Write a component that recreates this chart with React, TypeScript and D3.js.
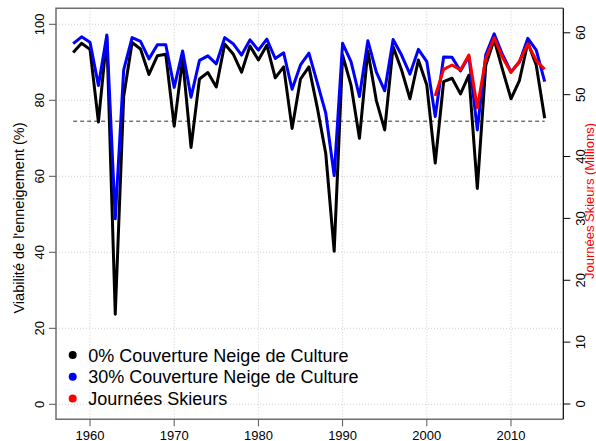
import React from "react";
import * as d3 from "d3";

const years: number[] = d3.range(1958, 2015);

const snow0: number[] = [
  92.6, 95.0, 93.4, 74.3, 96.8, 23.7, 81.0, 95.2, 93.5, 86.8,
  91.7, 92.1, 73.2, 90.9, 67.6, 85.6, 87.3, 83.5, 94.8, 92.2,
  87.4, 94.3, 90.6, 94.5, 85.9, 88.8, 72.6, 85.6, 88.8, 78.0,
  66.0, 40.3, 91.9, 84.0, 70.0, 93.0, 80.0, 72.2, 94.1, 88.0,
  80.4, 90.6, 84.0, 63.5, 84.9, 85.8, 81.7, 86.6, 56.8, 89.2,
  96.0, 88.0, 80.4, 85.2, 95.2, 89.2, 75.3,
];

const snow30: number[] = [
  94.9, 96.7, 95.3, 83.9, 97.2, 48.8, 88.0, 96.5, 95.5, 90.9,
  94.6, 94.6, 83.4, 93.0, 80.8, 90.5, 91.7, 89.6, 96.5, 94.9,
  91.9, 95.9, 93.2, 96.1, 91.0, 92.5, 82.9, 89.3, 92.4, 84.6,
  76.6, 60.2, 95.0, 90.2, 81.0, 95.7, 87.5, 82.5, 96.0, 91.9,
  86.9, 93.4, 90.2, 75.7, 91.4, 91.3, 87.7, 91.6, 72.2, 92.0,
  97.5, 92.0, 87.5, 90.0, 96.3, 93.2, 84.9,
];

const skierYears: number[] = d3.range(2001, 2015);
const skierDays: number[] = [
  49.8, 54.1, 54.8, 54.0, 56.4, 47.9, 55.8, 59.2, 56.0, 53.6, 55.4, 58.2, 55.5, 54.1,
];

const threshold = 74.5;
const xTicks: number[] = [1960, 1970, 1980, 1990, 2000, 2010];
const yLeftTicks: number[] = [0, 20, 40, 60, 80, 100];
const yRightTicks: number[] = [0, 10, 20, 30, 40, 50, 60];
const legendLabels: string[] = [
  "0% Couverture Neige de Culture",
  "30% Couverture Neige de Culture",
  "Journées Skieurs",
];
const legendColors: string[] = ["#000000", "#0000ff", "#ff0000"];
const leftLabel = "Viabilité de l'enneigement (%)";
const rightLabel = "Journées Skieurs (Millions)";

export default function App() {
  const box = { left: 56, right: 563.3, top: 8.3, bottom: 419.3 };
  const x = d3.scaleLinear().domain([1960, 2010]).range([90, 511]);
  const yL = d3.scaleLinear().domain([0, 100]).range([404.3, 24.3]);
  const yR = d3.scaleLinear().domain([0, 60]).range([404, 32.8]);

  const lineL = d3
    .line<[number, number]>()
    .x((d) => x(d[0]))
    .y((d) => yL(d[1]));
  const lineR = d3
    .line<[number, number]>()
    .x((d) => x(d[0]))
    .y((d) => yR(d[1]));

  const p0 = lineL(years.map((y, i) => [y, snow0[i]] as [number, number])) || "";
  const p30 = lineL(years.map((y, i) => [y, snow30[i]] as [number, number])) || "";
  const pR = lineR(skierYears.map((y, i) => [y, skierDays[i]] as [number, number])) || "";

  const font = "'Liberation Sans', Arial, sans-serif";
  const gridColor = "#cfcfcf";

  return (
    <svg
      width={596}
      height={441}
      style={{ position: "absolute", left: 0, top: 0, background: "#fff" }}
      fontFamily={font}
    >
      <rect x={0} y={0} width={596} height={441} fill="#fff" />
      {xTicks.map((t) => (
        <line
          key={"gx" + t}
          x1={x(t)}
          x2={x(t)}
          y1={box.top}
          y2={box.bottom}
          stroke={gridColor}
          strokeWidth={1}
          strokeDasharray="1 2"
        />
      ))}
      {yLeftTicks.map((t) => (
        <line
          key={"gy" + t}
          x1={box.left}
          x2={box.right}
          y1={yL(t)}
          y2={yL(t)}
          stroke={gridColor}
          strokeWidth={1}
          strokeDasharray="1 2"
        />
      ))}
      <line
        x1={x(1958)}
        x2={x(2014)}
        y1={yL(threshold)}
        y2={yL(threshold)}
        stroke="#333"
        strokeWidth={1}
        strokeDasharray="4 3"
      />
      <path d={p0} fill="none" stroke="#000" strokeWidth={3} strokeLinejoin="round" />
      <path d={p30} fill="none" stroke="#0000ff" strokeWidth={3} strokeLinejoin="round" />
      <path d={pR} fill="none" stroke="#ff0000" strokeWidth={3} strokeLinejoin="round" />
      <path
        d={`M${box.right},${box.top} L${box.left},${box.top} L${box.left},${box.bottom} L${box.right},${box.bottom}`}
        fill="none"
        stroke="#6e6e6e"
        strokeWidth={1.5}
      />
      <line x1={box.right} x2={box.right} y1={box.top} y2={box.bottom} stroke="#000" strokeWidth={1.2} />
      {xTicks.map((t) => (
        <g key={"xt" + t}>
          <line x1={x(t)} x2={x(t)} y1={box.bottom} y2={box.bottom + 7} stroke="#555" strokeWidth={1} />
          <text x={x(t)} y={439.5} fontSize={13} textAnchor="middle" fill="#000">
            {t}
          </text>
        </g>
      ))}
      {yLeftTicks.map((t) => (
        <g key={"yl" + t}>
          <line x1={box.left - 7} x2={box.left} y1={yL(t)} y2={yL(t)} stroke="#555" strokeWidth={1} />
          <text
            transform={`translate(43.5,${yL(t)}) rotate(-90)`}
            fontSize={13}
            textAnchor="middle"
            fill="#000"
          >
            {t}
          </text>
        </g>
      ))}
      {yRightTicks.map((t) => (
        <g key={"yr" + t}>
          <line x1={box.right} x2={box.right + 7} y1={yR(t)} y2={yR(t)} stroke="#000" strokeWidth={1} />
          <text
            transform={`translate(585,${yR(t)}) rotate(-90)`}
            fontSize={13}
            textAnchor="middle"
            fill="#000"
          >
            {t}
          </text>
        </g>
      ))}
      <text
        transform={`translate(24,218) rotate(-90)`}
        fontSize={14.5}
        textAnchor="middle"
        fill="#000"
      >
        {leftLabel}
      </text>
      <text
        transform={`translate(593.5,201) rotate(-90)`}
        fontSize={13}
        textAnchor="middle"
        fill="#ff0000"
      >
        {rightLabel}
      </text>
      {legendLabels.map((lab, i) => (
        <g key={"lg" + i}>
          <circle cx={72.7} cy={355 + i * 21.8} r={4} fill={legendColors[i]} />
          <text x={88.3} y={361.5 + i * 21.8} fontSize={18} fill="#000">
            {lab}
          </text>
        </g>
      ))}
    </svg>
  );
}
